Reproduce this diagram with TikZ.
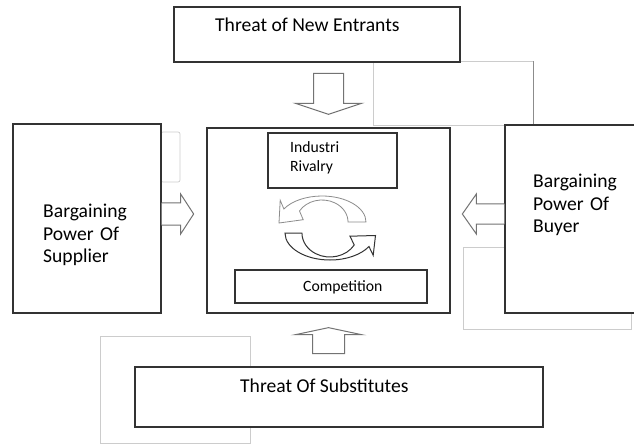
\documentclass[tikz,border=0pt]{standalone}
\usepackage{fontspec}
\setmainfont{Carlito}
\usetikzlibrary{calc}

\begin{document}
\begin{tikzpicture}[
    x=1pt, y=1pt,
    box/.style={draw=black!80, line width=1.3pt, fill=white, inner sep=0pt},
    faint/.style={draw=black!20, line width=0.7pt},
    blockarr/.style={draw=black!55, line width=1pt, fill=white, line join=miter},
    cycup/.style={draw=black!45, line width=0.8pt, fill=white},
    cycdown/.style={draw=black!80, line width=1pt, fill=white},
    lbl/.style={inner sep=0pt, font=\fontsize{19.6}{22}\selectfont, align=left},
    lbls/.style={inner sep=0pt, font=\fontsize{15.7}{19}\selectfont, align=left}
]
\useasboundingbox (0,0) rectangle (634,445);

% faint leftover frames
\draw[faint] (373,320) rectangle (533,384);
\draw[faint, draw=black!45] (533,320) -- (533,384);
\draw[faint, rounded corners=2pt] (161,263) rectangle (180,313);
\draw[faint] (463,116) rectangle (631,198);
\draw[faint] (100,2) rectangle (250,109);

% boxes
\node[box, minimum width=286pt, minimum height=55pt] (entr) at (317,410.5) {};
\node[box, minimum width=243pt, minimum height=185pt] (ind) at (328.5,224.5) {};
\node[box, minimum width=129pt, minimum height=55pt] (riv) at (332.5,284.5) {};
\node[box, minimum width=192pt, minimum height=33pt] (comp) at (331,158.5) {};
\node[box, minimum width=148pt, minimum height=189pt] (sup) at (87,226.5) {};
\node[box, minimum width=140pt, minimum height=188pt] (buy) at (575,226) {};
\node[box, minimum width=408pt, minimum height=60pt] (subs) at (339,48) {};

% texts
\node[lbl, anchor=base west] (entrtxt) at (215,413) {Threat of New Entrants};
\node[lbl, anchor=base west] (substxt) at (240,53) {Threat Of Substitutes};
\node[lbls, anchor=base west] (comptxt) at (303,154) {Competition};
\node[lbls, anchor=base west, text width=60pt] (rivtxt) at (290,292) {Industri\\Rivalry};
\node[lbl, anchor=base west, text width=87pt] (suptxt) at (43,227)
    {Bargaining\\\makebox[\linewidth][s]{Power Of}\\Supplier};
\node[lbl, anchor=base west, text width=84pt] (buytxt) at (533,257)
    {Bargaining\\\makebox[\linewidth][s]{Power Of}\\Buyer};

% block arrows
\coordinate (downtip) at ($(ind.north)+(0,13)$);
\draw[blockarr] (downtip) -- ++(33,11) -- ++(-18,0) -- ++(0,30) -- ++(-30,0) -- ++(0,-30) -- ++(-18,0) -- cycle;
\coordinate (uptip) at ($(ind.south)+(0,-14)$);
\draw[blockarr] (uptip) -- ++(33,-7) -- ++(-17,0) -- ++(0,-19) -- ++(-32,0) -- ++(0,19) -- ++(-17,0) -- cycle;
\coordinate (suptail) at ($(sup.east)+(0,4.5)$);
\draw[blockarr] (suptail) ++(0,11) -- ++(19,0) -- ++(0,9) -- ++(13,-20) -- ++(-13,-20) -- ++(0,9) -- ++(-19,0);
\coordinate (buytail) at ($(buy.west)+(0,5)$);
\draw[blockarr] (buytail) ++(0,10) -- ++(-28,0) -- ++(0,10) -- ++(-14,-20) -- ++(14,-20) -- ++(0,10) -- ++(28,0);

% rivalry cycle
\begin{scope}[shift={(ind.center)}]
\draw[cycup] (37.5,-1.5) arc[start angle=0, end angle=150, x radius=44, y radius=26]
    -- (-48.3,20.2) -- (-49.5,-2.5) -- (-25.3,0.8) -- (-29,9.5)
    arc[start angle=150, end angle=0, x radius=26, y radius=22] -- cycle;
\draw[cycdown] (-43.5,-12.5) arc[start angle=180, end angle=330, x radius=45, y radius=27]
    -- (44.7,-34.8) -- (47,-15) -- (21.5,-15.7) -- (25.7,-24.5)
    arc[start angle=330, end angle=180, x radius=28, y radius=24] -- cycle;
\end{scope}
\end{tikzpicture}
\end{document}
